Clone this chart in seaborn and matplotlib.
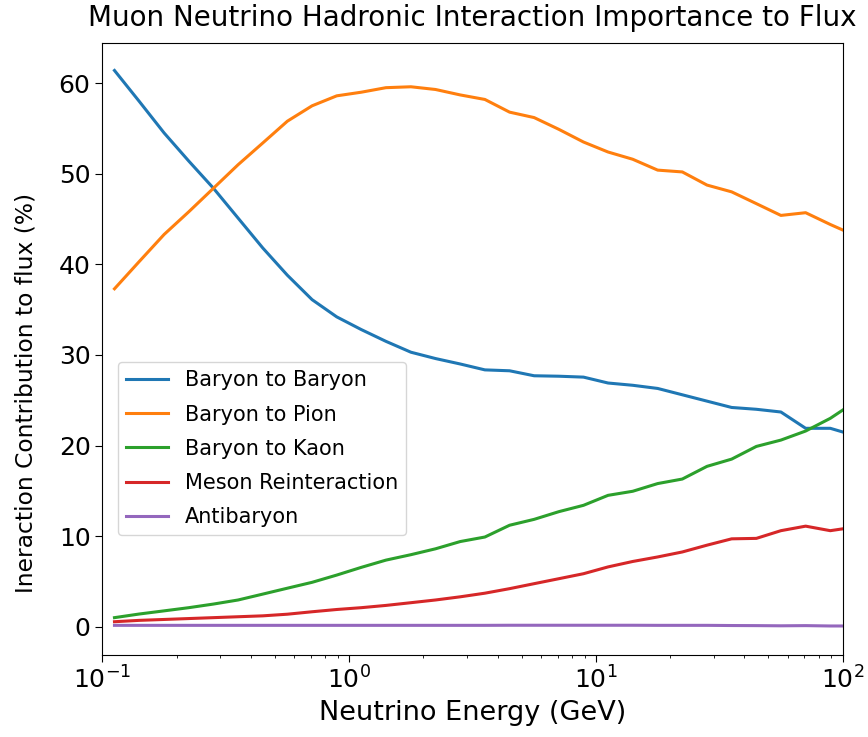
import matplotlib
matplotlib.use("Agg")
import matplotlib.pyplot as plt
import seaborn as sns
import pandas as pd

energy_gev = [0.112, 0.141, 0.178, 0.224, 0.282, 0.355, 0.447, 0.562, 0.708, 0.891,
              1.12, 1.41, 1.78, 2.24, 2.82, 3.55, 4.47, 5.62, 7.08, 8.91,
              11.2, 14.1, 17.8, 22.4, 28.2, 35.5, 44.7, 56.2, 70.8, 89.1, 112.0]

baryon_to_baryon = [61.4, 58.0, 54.5, 51.4, 48.4, 45.1, 41.8, 38.8, 36.1, 34.2,
                    32.8, 31.5, 30.3, 29.6, 29.0, 28.35, 28.25, 27.7, 27.65, 27.55,
                    26.9, 26.65, 26.3, 25.6, 24.9, 24.2, 24.0, 23.7, 21.9, 21.9, 21.1]

baryon_to_pion = [37.3, 40.3, 43.3, 45.8, 48.4, 51.0, 53.4, 55.8, 57.5, 58.6,
                  59.0, 59.5, 59.6, 59.3, 58.7, 58.2, 56.8, 56.2, 54.9, 53.5,
                  52.4, 51.6, 50.4, 50.2, 48.75, 48.0, 46.7, 45.4, 45.7, 44.4, 43.2]

baryon_to_kaon = [1.0, 1.4, 1.75, 2.1, 2.5, 2.95, 3.6, 4.25, 4.9, 5.7,
                  6.55, 7.35, 7.95, 8.6, 9.4, 9.9, 11.2, 11.85, 12.7, 13.4,
                  14.5, 14.95, 15.8, 16.3, 17.7, 18.5, 19.9, 20.6, 21.6, 23.0, 24.8]

meson_reinteraction = [0.55, 0.7, 0.8, 0.9, 1.0, 1.1, 1.2, 1.38, 1.65, 1.9,
                       2.1, 2.35, 2.65, 2.95, 3.3, 3.7, 4.2, 4.75, 5.3, 5.85,
                       6.6, 7.2, 7.7, 8.25, 9.0, 9.7, 9.75, 10.6, 11.1, 10.6, 11.0]

antibaryon = [0.15, 0.15, 0.15, 0.15, 0.15, 0.15, 0.15, 0.15, 0.15, 0.15,
              0.15, 0.15, 0.15, 0.15, 0.15, 0.15, 0.16, 0.16, 0.16, 0.16,
              0.16, 0.16, 0.15, 0.15, 0.15, 0.13, 0.12, 0.1, 0.12, 0.08, 0.08]

series_names = ["Baryon to Baryon", "Baryon to Pion", "Baryon to Kaon",
                "Meson Reinteraction", "Antibaryon"]
series_values = [baryon_to_baryon, baryon_to_pion, baryon_to_kaon,
                 meson_reinteraction, antibaryon]

rows = []
for name, vals in zip(series_names, series_values):
    for e, v in zip(energy_gev, vals):
        rows.append({"energy": e, "value": v, "interaction": name})
df = pd.DataFrame(rows)

plt.rcParams["font.family"] = ["DejaVu Sans"]
fig = plt.figure(figsize=(8.68, 7.37), dpi=100)
ax = fig.add_axes([0.1179, 0.1113, 0.9708 - 0.1179, 0.942 - 0.1113])

palette = ["#1f77b4", "#ff7f0e", "#2ca02c", "#d62728", "#9467bd"]
sns.lineplot(data=df, x="energy", y="value", hue="interaction",
             hue_order=series_names, palette=palette, linewidth=2.2,
             ax=ax, legend=True, sort=True, errorbar=None)

ax.set_xscale("log")
ax.set_xlim(0.1, 100)
ax.set_ylim(-3.12, 64.46)
ax.set_yticks([0, 10, 20, 30, 40, 50, 60])

ax.set_title("Muon Neutrino Hadronic Interaction Importance to Flux", fontsize=20, pad=12)
ax.set_xlabel("Neutrino Energy (GeV)", fontsize=19.5)
ax.set_ylabel("Ineraction Contribution to flux (%)", fontsize=16.8)
ax.yaxis.set_label_coords(-0.088, 0.428)
ax.tick_params(axis="both", which="major", labelsize=18, length=5)

handles, labels = ax.get_legend_handles_labels()
ax.legend(handles, labels, loc="upper left", bbox_to_anchor=(0.021, 0.4785),
          borderaxespad=0, fontsize=15, labelspacing=0.68, frameon=True,
          handlelength=2.0)

fig.savefig("out.png", dpi=100)
